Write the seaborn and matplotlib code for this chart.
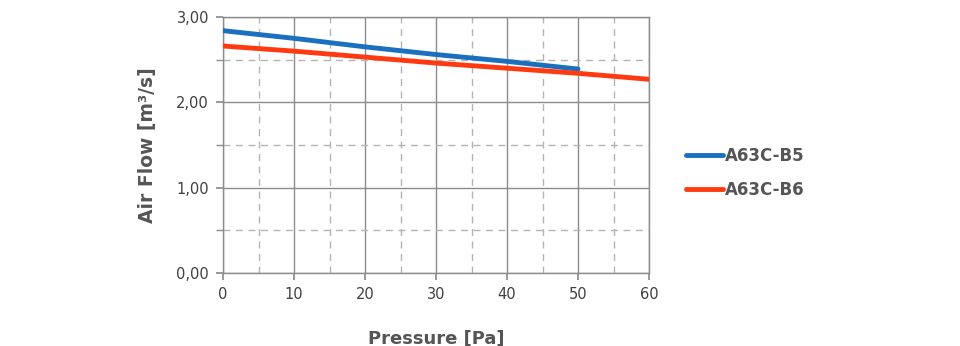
import matplotlib
matplotlib.use("Agg")
import matplotlib.pyplot as plt
import seaborn as sns
import pandas as pd
from matplotlib.ticker import MultipleLocator, FuncFormatter
from matplotlib.lines import Line2D

pressure_b5 = [0, 10, 20, 30, 40, 50]
flow_b5 = [2.84, 2.75, 2.65, 2.56, 2.48, 2.39]
pressure_b6 = [0, 10, 20, 30, 40, 50, 60]
flow_b6 = [2.66, 2.60, 2.53, 2.46, 2.40, 2.34, 2.27]
series_names = ["A63C-B5", "A63C-B6"]
series_colors = ["#1a6fbf", "#ff3a10"]

df = pd.concat([
    pd.DataFrame({"Pressure": pressure_b5, "Flow": flow_b5, "Model": series_names[0]}),
    pd.DataFrame({"Pressure": pressure_b6, "Flow": flow_b6, "Model": series_names[1]}),
])

sns.set_theme(style="white")
plt.rcParams['font.family'] = ['DejaVu Sans']
txt = "#404040"

fig = plt.figure(figsize=(9.6, 3.46), dpi=100)
ax = fig.add_axes([223/960, 1-273/346, (649-223)/960, (273-17)/346])

sns.lineplot(data=df, x="Pressure", y="Flow", hue="Model", palette=series_colors,
             linewidth=3.5, ax=ax, legend=False, zorder=3)

ax.set_xlim(0, 60)
ax.set_ylim(0, 3)
ax.xaxis.set_major_locator(MultipleLocator(10))
ax.xaxis.set_minor_locator(MultipleLocator(5))
ax.yaxis.set_major_locator(MultipleLocator(1))
ax.yaxis.set_minor_locator(MultipleLocator(0.5))
ax.yaxis.set_major_formatter(FuncFormatter(lambda v, p: f"{v:.2f}".replace(".", ",")))

ax.grid(which="major", color="#8c8c8c", linewidth=1.0, linestyle="-", zorder=0)
ax.grid(which="minor", color="#b4b4b4", linewidth=1.0, linestyle=(0, (5, 4)), zorder=0)
for s in ax.spines.values():
    s.set_color("#8c8c8c")
    s.set_linewidth(1.0)

ax.tick_params(axis="both", which="major", length=5, color="#8c8c8c", labelsize=10.5,
               labelcolor=txt, direction="out", left=True, bottom=True, pad=5)
ax.tick_params(axis="y", which="minor", length=5, color="#8c8c8c", direction="out", left=True)
ax.tick_params(axis="x", which="minor", length=0)

ax.set_xlabel("Pressure [Pa]", fontsize=13, fontweight="bold", color="#555555", labelpad=20)
ax.set_ylabel("Air Flow [m³/s]", fontsize=13.5, fontweight="bold", color="#555555", labelpad=14)

handles = [Line2D([], [], color=c, linewidth=3.5) for c in series_colors]
fig.legend(handles, series_names, loc="center left", bbox_to_anchor=(671/960, 1-173/346),
           frameon=False, handlelength=2.2, handletextpad=0.15, labelspacing=0.95,
           prop={"size": 12, "weight": "bold"}, labelcolor="#555555")

fig.savefig("out.png", dpi=100)
